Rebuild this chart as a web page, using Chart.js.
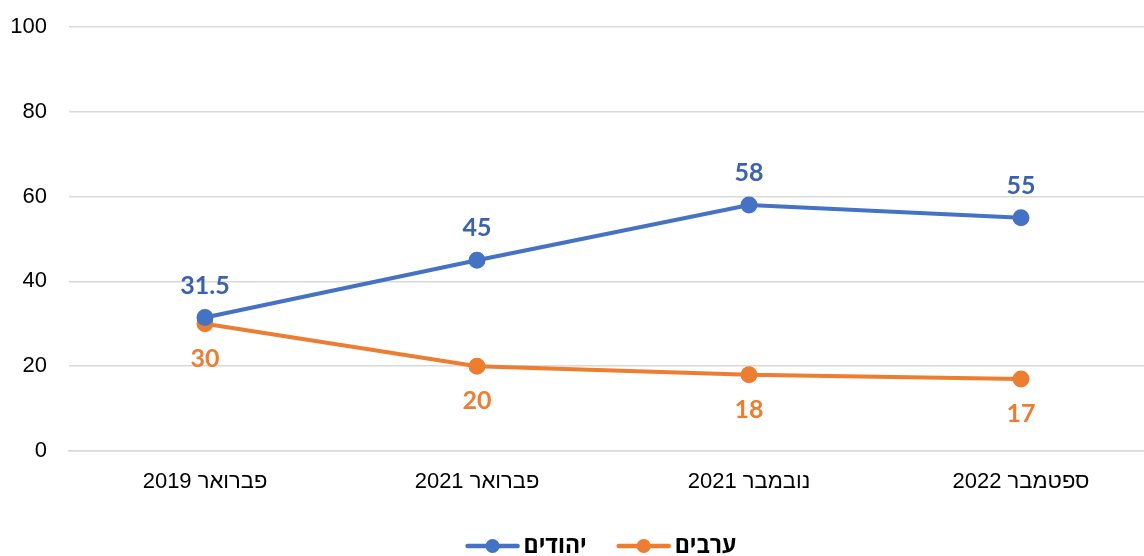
<!DOCTYPE html>
<html lang="he">
<head>
  <meta charset="UTF-8" />
  <title>יהודים / ערבים</title>
  <style>
    html, body { margin: 0; padding: 0; background: #fff; overflow: hidden; }
    #wrap { width: 1168px; height: 556px; }
  </style>
</head>
<body>
  <div id="wrap"><canvas id="grafico" width="1168" height="556"></canvas></div>
  <script src="https://cdn.jsdelivr.net/npm/chart.js@4.4.0/dist/chart.umd.min.js"></script>
  <script>
    const categorias = ['פברואר 2019', 'פברואר 2021', 'נובמבר 2021', 'ספטמבר 2022'];
    const yehudim = [31.5, 45, 58, 55];
    const aravim = [30, 20, 18, 17];
    const ticksY = [0, 20, 40, 60, 80, 100];

    const AZUL = '#4472C4';
    const LARANJA = '#ED7D31';

    // rótulos de valores
    const rotulos = {
      id: 'rotulos',
      afterDatasetsDraw(chart) {
        const ctx = chart.ctx;
        ctx.save();
        ctx.font = 'bold 25px Lato, "Open Sans", sans-serif';
        ctx.textAlign = 'center';
        ctx.textBaseline = 'middle';
        chart.data.datasets.forEach((ds, i) => {
          const meta = chart.getDatasetMeta(i);
          meta.data.forEach((pt, j) => {
            ctx.fillStyle = ds.labelColor;
            const dy = ds.labelPos === 'top' ? -32 : 35;
            ctx.fillText(String(ds.data[j]), pt.x, pt.y + dy);
          });
        });
        ctx.restore();
      }
    };

    // legenda embaixo: linha com círculo + nome
    const legenda = {
      id: 'legenda',
      afterDraw(chart) {
        const ctx = chart.ctx;
        const area = chart.chartArea;
        const y = 546;
        const larguraMarca = 54, gap = 4, entre = 30;
        ctx.save();
        ctx.font = 'bold 23px Lato, "Open Sans", sans-serif';
        ctx.textBaseline = 'middle';
        ctx.textAlign = 'left';
        const itens = chart.data.datasets.map(ds => ({
          texto: ds.label, cor: ds.borderColor, w: ctx.measureText(ds.label).width
        }));
        let total = 0;
        itens.forEach((it, i) => { total += larguraMarca + gap + it.w + (i ? entre : 0); });
        let x = (area.left + area.right) / 2 - 12 - total / 2;
        itens.forEach(it => {
          ctx.strokeStyle = it.cor;
          ctx.lineWidth = 4.5;
          ctx.lineCap = 'round';
          ctx.beginPath();
          ctx.moveTo(x + 2, y); ctx.lineTo(x + larguraMarca - 2, y);
          ctx.stroke();
          ctx.fillStyle = it.cor;
          ctx.beginPath();
          ctx.arc(x + larguraMarca / 2, y, 7, 0, Math.PI * 2);
          ctx.fill();
          ctx.fillStyle = '#000';
          ctx.fillText(it.texto, x + larguraMarca + gap, y);
          x += larguraMarca + gap + it.w + entre;
        });
        ctx.restore();
      }
    };

    new Chart(document.getElementById('grafico'), {
      type: 'line',
      data: {
        labels: categorias,
        datasets: [
          {
            label: 'יהודים',
            data: yehudim,
            borderColor: AZUL,
            backgroundColor: AZUL,
            borderWidth: 4,
            pointRadius: 6.5,
            pointHoverRadius: 6.5,
            labelColor: '#3A62AE',
            labelPos: 'top'
          },
          {
            label: 'ערבים',
            data: aravim,
            borderColor: LARANJA,
            backgroundColor: LARANJA,
            borderWidth: 4,
            pointRadius: 6.5,
            pointHoverRadius: 6.5,
            labelColor: '#ED7D31',
            labelPos: 'bottom'
          }
        ]
      },
      options: {
        responsive: false,
        animation: false,
        elements: { point: { pointStyle: 'circle' }, line: { tension: 0 } },
        layout: { padding: { top: 27, right: 11, left: 0, bottom: 58 } },
        scales: {
          x: {
            offset: true,
            grid: { display: false },
            border: { color: '#D9D9D9', width: 1.5 },
            ticks: {
              color: '#000',
              font: { family: '"Liberation Sans", Arial, sans-serif', size: 22 },
              padding: 10
            },
            afterFit(scale) { scale.height = 47; }
          },
          y: {
            min: 0,
            max: 100,
            afterBuildTicks(scale) { scale.ticks = ticksY.map(v => ({ value: v })); },
            grid: { color: '#D9D9D9', lineWidth: 1.5, drawTicks: false },
            border: { display: false },
            ticks: {
              color: '#000',
              font: { family: '"Liberation Sans", Arial, sans-serif', size: 22 },
              padding: 22
            },
            afterFit(scale) {
              scale.width = 69;
              scale.paddingTop = 0;
              scale.paddingBottom = 0;
            }
          }
        },
        plugins: {
          tooltip: { enabled: false },
          legend: { display: false }
        }
      },
      plugins: [rotulos, legenda]
    });
  </script>
</body>
</html>
